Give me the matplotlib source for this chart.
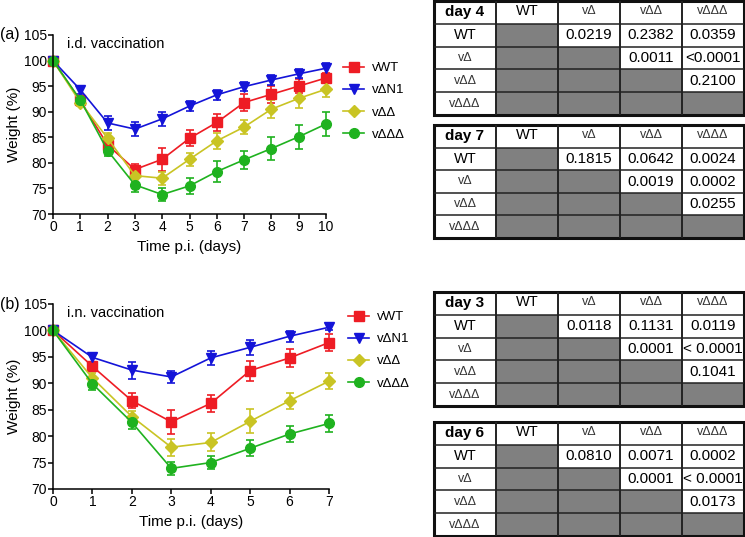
import matplotlib
matplotlib.use("Agg")
import matplotlib.pyplot as plt
from matplotlib.patches import Rectangle
from matplotlib.lines import Line2D

plt.rcParams['font.family'] = ['Liberation Sans', 'DejaVu Sans']

# ---------------- data ----------------
series_names = ['vWT', 'v\u0394N1', 'v\u0394\u0394', 'v\u0394\u0394\u0394']
series_colors = ['#ee1c24', '#1414d8', '#c9c424', '#1fb21f']
series_markers = ['s', 'v', 'D', 'o']

days_a = [0, 1, 2, 3, 4, 5, 6, 7, 8, 9, 10]
id_wt = [100, 92.2, 83.5, 78.7, 80.7, 84.8, 87.9, 91.8, 93.4, 95.0, 96.6]
id_wt_err = [0.4, 0.8, 1.2, 1.0, 2.3, 1.6, 1.6, 1.7, 1.6, 1.3, 1.0]
id_n1 = [100, 94.3, 87.8, 86.6, 88.6, 91.1, 93.3, 94.9, 96.2, 97.4, 98.5]
id_n1_err = [0.4, 0.8, 1.3, 1.4, 1.4, 1.0, 1.0, 0.9, 0.9, 0.9, 1.1]
id_dd = [100, 91.8, 84.8, 77.5, 77.0, 80.7, 84.3, 87.0, 90.5, 92.6, 94.4]
id_dd_err = [0.4, 0.7, 1.0, 1.2, 1.3, 1.3, 1.6, 1.3, 1.8, 1.8, 1.6]
id_ddd = [100, 92.3, 82.4, 75.7, 73.8, 75.5, 78.3, 80.6, 82.8, 85.1, 87.6]
id_ddd_err = [0.4, 0.7, 1.0, 1.4, 1.3, 1.6, 2.0, 1.8, 2.3, 2.3, 2.4]

days_b = [0, 1, 2, 3, 4, 5, 6, 7]
in_wt = [100, 93.2, 86.7, 82.7, 86.2, 92.4, 94.8, 97.7]
in_wt_err = [0.4, 0.8, 1.4, 2.3, 1.6, 1.9, 1.7, 1.6]
in_n1 = [100, 94.9, 92.5, 91.2, 94.8, 96.8, 98.9, 100.6]
in_n1_err = [0.4, 0.8, 1.6, 1.1, 1.3, 1.4, 1.0, 0.6]
in_dd = [100, 91.0, 83.7, 77.9, 78.8, 82.8, 86.7, 90.4]
in_dd_err = [0.4, 1.0, 1.0, 1.6, 1.7, 2.3, 1.5, 1.5]
in_ddd = [100, 89.9, 82.6, 73.9, 75.0, 77.7, 80.4, 82.4]
in_ddd_err = [0.4, 1.1, 1.3, 1.3, 1.3, 1.5, 1.5, 1.6]

table_cols = ['WT', 'v\u0394', 'v\u0394\u0394', 'v\u0394\u0394\u0394']
table_rows = ['WT', 'v\u0394', 'v\u0394\u0394', 'v\u0394\u0394\u0394']
day4_vals = [['', '0.0219', '0.2382', '0.0359'],
             ['', '', '0.0011', '<0.0001'],
             ['', '', '', '0.2100'],
             ['', '', '', '']]
day7_vals = [['', '0.1815', '0.0642', '0.0024'],
             ['', '', '0.0019', '0.0002'],
             ['', '', '', '0.0255'],
             ['', '', '', '']]
day3_vals = [['', '0.0118', '0.1131', '0.0119'],
             ['', '', '0.0001', '< 0.0001'],
             ['', '', '', '0.1041'],
             ['', '', '', '']]
day6_vals = [['', '0.0810', '0.0071', '0.0002'],
             ['', '', '0.0001', '< 0.0001'],
             ['', '', '', '0.0173'],
             ['', '', '', '']]

W, H = 745, 537
fig = plt.figure(figsize=(W / 100, H / 100), dpi=100)


def px_axes(x0, y0, x1, y1):
    return fig.add_axes([x0 / W, 1 - y1 / H, (x1 - x0) / W, (y1 - y0) / H])


def line_panel(ax, days, ys, errs, title, letter, leg_xy):
    for y, e, c, m, n in zip(ys, errs, series_colors, series_markers, series_names):
        ms = 6 if m == 'D' else 7
        ax.errorbar(days, y, yerr=e, color=c, marker=m, markersize=ms, lw=1.2,
                    elinewidth=1.2, capsize=3.2, capthick=1.2, clip_on=False, label=n)
    ax.set_xlim(days[0], days[-1])
    ax.set_ylim(70, 105)
    ax.set_xticks(days)
    ax.set_yticks(range(70, 106, 5))
    for s in ['top', 'right']:
        ax.spines[s].set_visible(False)
    for s in ['left', 'bottom']:
        ax.spines[s].set_linewidth(1.1)
    ax.tick_params(direction='out', length=3.5, width=1.1, labelsize=10, pad=1)
    ax.set_xlabel('Time p.i. (days)', fontsize=11, labelpad=4)
    ax.set_ylabel('Weight (%)', fontsize=11, labelpad=2)
    ax.text(0.05, 0.99, title, transform=ax.transAxes, fontsize=10.5, va='top', ha='left')
    fig.text(0.0, ax.get_position().y1, letter, fontsize=11.5, va='center', ha='left')
    handles = [Line2D([], [], color=c, marker=m, markersize=(6 if m == 'D' else 7), lw=1.2)
               for c, m in zip(series_colors, series_markers)]
    fig.legend(handles, series_names, loc='upper left',
               bbox_to_anchor=(leg_xy[0] / W, 1 - leg_xy[1] / H), frameon=False,
               fontsize=9.5, handlelength=1.6, handletextpad=0.6, labelspacing=0.75,
               borderpad=0, borderaxespad=0)


ax_a = px_axes(53, 35, 326, 214)
line_panel(ax_a, days_a, [id_wt, id_n1, id_dd, id_ddd],
           [id_wt_err, id_n1_err, id_dd_err, id_ddd_err], 'i.d. vaccination', '(a)', (343, 62))

ax_b = px_axes(53, 304, 329, 489)
line_panel(ax_b, days_b, [in_wt, in_n1, in_dd, in_ddd],
           [in_wt_err, in_n1_err, in_dd_err, in_ddd_err], 'i.n. vaccination', '(b)', (348, 311))


def draw_table(x0, y0, x1, y1, day_label, vals):
    ax = px_axes(x0, y0, x1, y1)
    ax.set_xlim(0, 5)
    ax.set_ylim(5, 0)
    ax.axis('off')
    for r in range(4):
        for c in range(4):
            if c <= r:
                ax.add_patch(Rectangle((c + 1, r + 1), 1, 1, facecolor='#808080',
                                       edgecolor='none'))
    for i in range(1, 5):
        ax.plot([0, 5], [i, i], color='#222222', lw=1.1)
        ax.plot([i, i], [0, 5], color='#222222', lw=1.4)
    ax.add_patch(Rectangle((0, 0), 5, 5, fill=False, edgecolor='#111111', lw=2.2,
                           clip_on=False))
    ax.text(0.5, 0.5, day_label, ha='center', va='center', fontsize=11, fontweight='bold')
    for c, name in enumerate(table_cols):
        if name == 'WT':
            ax.text(c + 1.5, 0.45, name, ha='center', va='center', fontsize=10.5)
        else:
            ax.text(c + 1.5, 0.45, name, ha='center', va='center', fontsize=9,
                    color='#333333')
    for r, name in enumerate(table_rows):
        if name == 'WT':
            ax.text(0.5, r + 1.5, name, ha='center', va='center', fontsize=10.5)
        else:
            ax.text(0.5, r + 1.5, name, ha='center', va='center', fontsize=9,
                    color='#333333')
    for r in range(4):
        for c in range(4):
            v = vals[r][c]
            if v:
                ax.text(c + 1.5, r + 1.5, v, ha='center', va='center', fontsize=11)


draw_table(434, 1, 744, 115, 'day 4', day4_vals)
draw_table(434, 125, 744, 238, 'day 7', day7_vals)
draw_table(434, 292, 744, 406, 'day 3', day3_vals)
draw_table(434, 422, 744, 536, 'day 6', day6_vals)

fig.savefig('out.png', dpi=100)
